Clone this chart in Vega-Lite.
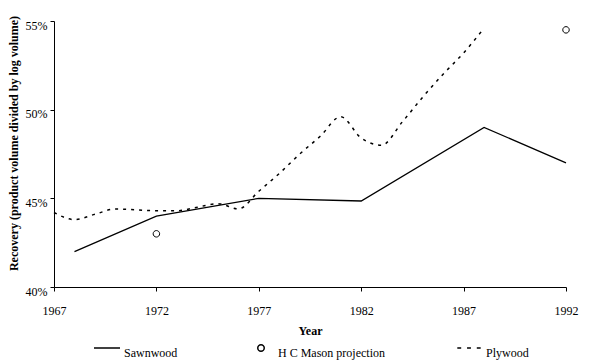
{
  "$schema": "https://vega.github.io/schema/vega-lite/v6.json",
  "width": 512,
  "height": 266,
  "autosize": {"type": "none"},
  "padding": {"left": 54, "top": 21, "right": 23, "bottom": 75},
  "background": "white",
  "config": {
    "view": {"stroke": null},
    "font": "Liberation Serif",
    "axis": {
      "grid": false,
      "domainColor": "black",
      "tickColor": "black",
      "labelColor": "black",
      "titleColor": "black",
      "tickSize": 4,
      "labelFont": "Liberation Serif",
      "titleFont": "Liberation Serif",
      "labelFontSize": 12
    }
  },
  "data": {
    "values": [
      {"series": "Sawnwood", "year": 1968, "value": 42.0},
      {"series": "Sawnwood", "year": 1972, "value": 44.0},
      {"series": "Sawnwood", "year": 1977, "value": 45.0},
      {"series": "Sawnwood", "year": 1982, "value": 44.85},
      {"series": "Sawnwood", "year": 1988, "value": 49.0},
      {"series": "Sawnwood", "year": 1992, "value": 47.0},
      {"series": "H C Mason projection", "year": 1972, "value": 43.0},
      {"series": "H C Mason projection", "year": 1992, "value": 54.5},
      {"series": "Plywood", "year": 1967, "value": 44.2},
      {"series": "Plywood", "year": 1968, "value": 43.8},
      {"series": "Plywood", "year": 1969, "value": 44.1},
      {"series": "Plywood", "year": 1970, "value": 44.4},
      {"series": "Plywood", "year": 1971, "value": 44.35},
      {"series": "Plywood", "year": 1972, "value": 44.3},
      {"series": "Plywood", "year": 1973, "value": 44.3},
      {"series": "Plywood", "year": 1974, "value": 44.5},
      {"series": "Plywood", "year": 1975, "value": 44.7},
      {"series": "Plywood", "year": 1976, "value": 44.4},
      {"series": "Plywood", "year": 1977, "value": 45.4},
      {"series": "Plywood", "year": 1978, "value": 46.4},
      {"series": "Plywood", "year": 1979, "value": 47.5},
      {"series": "Plywood", "year": 1980, "value": 48.5},
      {"series": "Plywood", "year": 1981, "value": 49.6},
      {"series": "Plywood", "year": 1982, "value": 48.4},
      {"series": "Plywood", "year": 1983, "value": 48.0},
      {"series": "Plywood", "year": 1984, "value": 49.3},
      {"series": "Plywood", "year": 1985, "value": 50.7},
      {"series": "Plywood", "year": 1986, "value": 52.0},
      {"series": "Plywood", "year": 1987, "value": 53.2},
      {"series": "Plywood", "year": 1988, "value": 54.6}
    ]
  },
  "encoding": {
    "x": {
      "field": "year",
      "type": "quantitative",
      "scale": {"domain": [1967, 1992], "nice": false, "zero": false},
      "axis": {
        "values": [1967, 1972, 1977, 1982, 1987, 1992],
        "format": "d",
        "labelPadding": 14,
        "labelFlush": false,
        "labelOverlap": false,
        "title": "Year",
        "titleFontSize": 12,
        "titleFontWeight": "bold",
        "titlePadding": 9
      }
    },
    "y": {
      "field": "value",
      "type": "quantitative",
      "scale": {"domain": [40, 55], "nice": false, "zero": false},
      "axis": {
        "values": [40, 45, 50, 55],
        "labelExpr": "datum.value + '%'",
        "labelPadding": 3,
        "labelOffset": 4,
        "title": "Recovery (product volume divided by log volume)",
        "titleFontSize": 12,
        "titleFontWeight": "bold",
        "titlePadding": 5,
        "titleY": 122
      }
    }
  },
  "layer": [
    {
      "transform": [{"filter": "datum.series === 'Sawnwood'"}],
      "mark": {"type": "line", "color": "black", "strokeWidth": 1.3}
    },
    {
      "transform": [{"filter": "datum.series === 'Plywood'"}],
      "mark": {"type": "line", "color": "black", "strokeWidth": 1.5, "strokeDash": [3, 5], "interpolate": "monotone"}
    },
    {
      "transform": [{"filter": "datum.series === 'H C Mason projection'"}],
      "mark": {"type": "point", "filled": false, "color": "black", "size": 676, "strokeWidth": 1, "opacity": 1},
      "encoding": {
        "shape": {
          "field": "series",
          "type": "nominal",
          "scale": {
            "domain": ["Sawnwood", "H C Mason projection", "Plywood"],
            "range": [
              "M-1,0H1",
              "M-0.25,0A0.25,0.25,0,1,0,0.25,0A0.25,0.25,0,1,0,-0.25,0Z",
              "M-0.9,0H-0.6M-0.15,0H0.15M0.6,0H0.9"
            ]
          },
          "legend": {
            "title": null,
            "orient": "none",
            "legendX": 39,
            "legendY": 313,
            "direction": "horizontal",
            "symbolSize": 676,
            "symbolStrokeWidth": 1.5,
            "symbolStrokeColor": "black",
            "symbolFillColor": "transparent",
            "labelFont": "Liberation Serif",
            "labelFontSize": 12,
            "labelColor": "black",
            "labelBaseline": "top",
            "labelOffset": 3,
            "columnPadding": 69
          }
        }
      }
    }
  ]
}
